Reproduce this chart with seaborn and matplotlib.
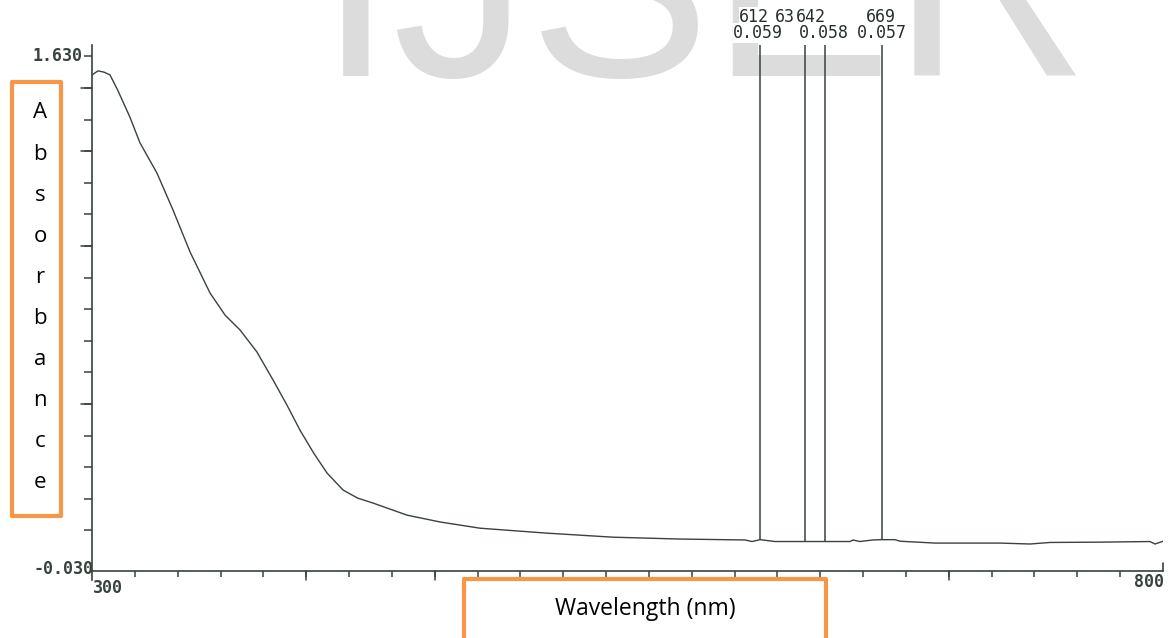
import numpy as np
import matplotlib
matplotlib.use("Agg")
import matplotlib.pyplot as plt
import seaborn as sns
from matplotlib.patches import Rectangle

# ---------------- data ----------------
wavelength = [300.0, 302.8, 305.6, 308.4, 312.0, 317.7, 322.4, 330.3, 337.8, 345.8, 355.1,
              362.1, 369.1, 377.0, 384.5, 391.0, 397.1, 403.5, 409.7, 417.2, 424.0, 431.2,
              447.1, 462.5, 481.1, 512.4, 543.2, 574.5, 604.9, 608.1, 611.9, 618.9, 653.9,
              655.3, 658.5, 664.6, 667.9, 674.9, 677.2, 693.6, 723.9, 737.9, 747.3, 770.6,
              793.9, 796.3, 800.0]
absorbance = [1.569, 1.582, 1.578, 1.569, 1.520, 1.433, 1.350, 1.253, 1.134, 0.998, 0.866,
              0.795, 0.747, 0.676, 0.586, 0.505, 0.424, 0.350, 0.286, 0.231, 0.205, 0.189,
              0.150, 0.128, 0.108, 0.092, 0.079, 0.073, 0.070, 0.065, 0.071, 0.065, 0.065,
              0.070, 0.065, 0.070, 0.071, 0.071, 0.066, 0.060, 0.060, 0.057, 0.062, 0.063,
              0.065, 0.057, 0.066]
peak_wl = [612, 633, 642, 669]
peak_abs = [0.059, 0.058, 0.058, 0.057]
x_range = [300, 800]
y_range = [-0.030, 1.630]
y_tick_labels = ["-0.030", "1.630"]
x_tick_labels = ["300", "800"]
xlabel = "Wavelength (nm)"
ylabel = "Absorbance"
watermark = "IJSER"

# ---------------- style ----------------
sns.set_style("white")
plt.rcParams["font.family"] = ["DejaVu Sans"]
INK = "#37433c"
ORANGE = "#F79646"
W, H = 1168, 638

fig = plt.figure(figsize=(W / 100, H / 100), dpi=100)
fig.patch.set_facecolor("white")


def fx(px):
    return px / W


def fy(py):
    return 1 - py / H


ax = fig.add_axes([fx(92), fy(571), fx(1163 - 92), (571 - 56) / H])
ax.set_facecolor("none")

# watermark
fig.text(fx(318), fy(76), watermark, fontsize=196, color="#dcdcdc",
         family="Liberation Sans", ha="left", va="baseline", zorder=-5)

sns.lineplot(x=wavelength, y=absorbance, ax=ax, color=INK, lw=1.0,
             estimator=None, sort=False)

ax.set_xlim(*x_range)
ax.set_ylim(*y_range)

# spines
for s in ["top", "right"]:
    ax.spines[s].set_visible(False)
for s in ["left", "bottom"]:
    ax.spines[s].set_color(INK)
    ax.spines[s].set_linewidth(1.2)
ax.spines["left"].set_bounds(-0.059, 1.665)

# ticks
yt = 1.5268 - 0.10187 * np.arange(15)
ax.set_yticks(list(yt) + [y_range[1]])
ax.set_yticklabels([])
ax.tick_params(axis="y", which="major", left=True, direction="out", length=5.5,
               width=1.1, color=INK, pad=1)
for v in yt[[0, 2, 5, 10]]:
    ax.plot([x_range[0] - 5.0, x_range[0]], [v, v], color=INK, lw=1.1, clip_on=False)

xt = np.arange(320, 800, 20)
ax.set_xticks(xt)
ax.set_xticklabels([])
ax.tick_params(axis="x", bottom=True, direction="out", length=4.5, width=1.1, color=INK)
for v in [400, 460, 700]:
    ax.plot([v, v], [y_range[0], y_range[0] - 0.03], color=INK, lw=1.1, clip_on=False)
ax.plot([800, 800], [y_range[0], y_range[0] + 0.026], color=INK, lw=1.2, clip_on=False)

mono = dict(family="DejaVu Sans Mono", fontweight="bold", color=INK, annotation_clip=False)
ax.annotate(y_tick_labels[1], (x_range[0], y_range[1]), xytext=(-10, 0),
            textcoords="offset pixels", ha="right", va="center", fontsize=12, **mono)
ax.annotate(y_tick_labels[0], (x_range[0], y_range[0]), xytext=(1, 2),
            textcoords="offset pixels", ha="right", va="center", fontsize=12, **mono)
ax.annotate(x_tick_labels[0], (x_range[0], y_range[0]), xytext=(1, -17),
            textcoords="offset pixels", ha="left", va="center", fontsize=12, **mono)
ax.annotate(x_tick_labels[1], (x_range[1], y_range[0]), xytext=(1, -11),
            textcoords="offset pixels", ha="right", va="center", fontsize=12, **mono)

# peak markers
peak_font = dict(family="DejaVu Sans Mono", color="#26302a", annotation_clip=False)
base = np.interp(peak_wl, wavelength, absorbance)
ax.vlines(peak_wl, base, 1.665, color=INK, lw=1.1, clip_on=False)
wl_off = [-21, -30, -29, -17]
val_off = [-27, None, -26, -26]
for i, (w, a) in enumerate(zip(peak_wl, peak_abs)):
    ax.annotate(f"{w}", (w, 1.665), xytext=(wl_off[i], 28), textcoords="offset pixels",
                ha="left", va="center", fontsize=12,
                bbox=dict(facecolor="white", edgecolor="none", pad=0.5), **peak_font)
for i, (w, a) in enumerate(zip(peak_wl, peak_abs)):
    if val_off[i] is None:
        continue
    ax.annotate(f"{a:.3f}", (w, 1.665), xytext=(val_off[i], 12), textcoords="offset pixels",
                ha="left", va="center", fontsize=12,
                bbox=dict(facecolor="white", edgecolor="none", pad=0.5), **peak_font)

# orange label boxes
fig.add_artist(Rectangle((fx(12), fy(516)), fx(61 - 12), (516 - 82) / H,
                         transform=fig.transFigure, fill=False, edgecolor=ORANGE,
                         lw=3.0, joinstyle="round"))
letters_y = np.linspace(113, 483, len(ylabel))
for ch, yy in zip(ylabel, letters_y):
    fig.text(fx(40), fy(yy), ch, fontsize=16, family="Open Sans", color="black",
             ha="center", va="center")

fig.add_artist(Rectangle((fx(464), fy(660)), fx(826 - 464), (660 - 579) / H,
                         transform=fig.transFigure, fill=False, edgecolor=ORANGE,
                         lw=3.0, joinstyle="round"))
fig.text(fx(645), fy(609), xlabel, fontsize=16.5, family="Open Sans", color="black",
         ha="center", va="center")

fig.savefig("out.png", dpi=100, facecolor="white")
